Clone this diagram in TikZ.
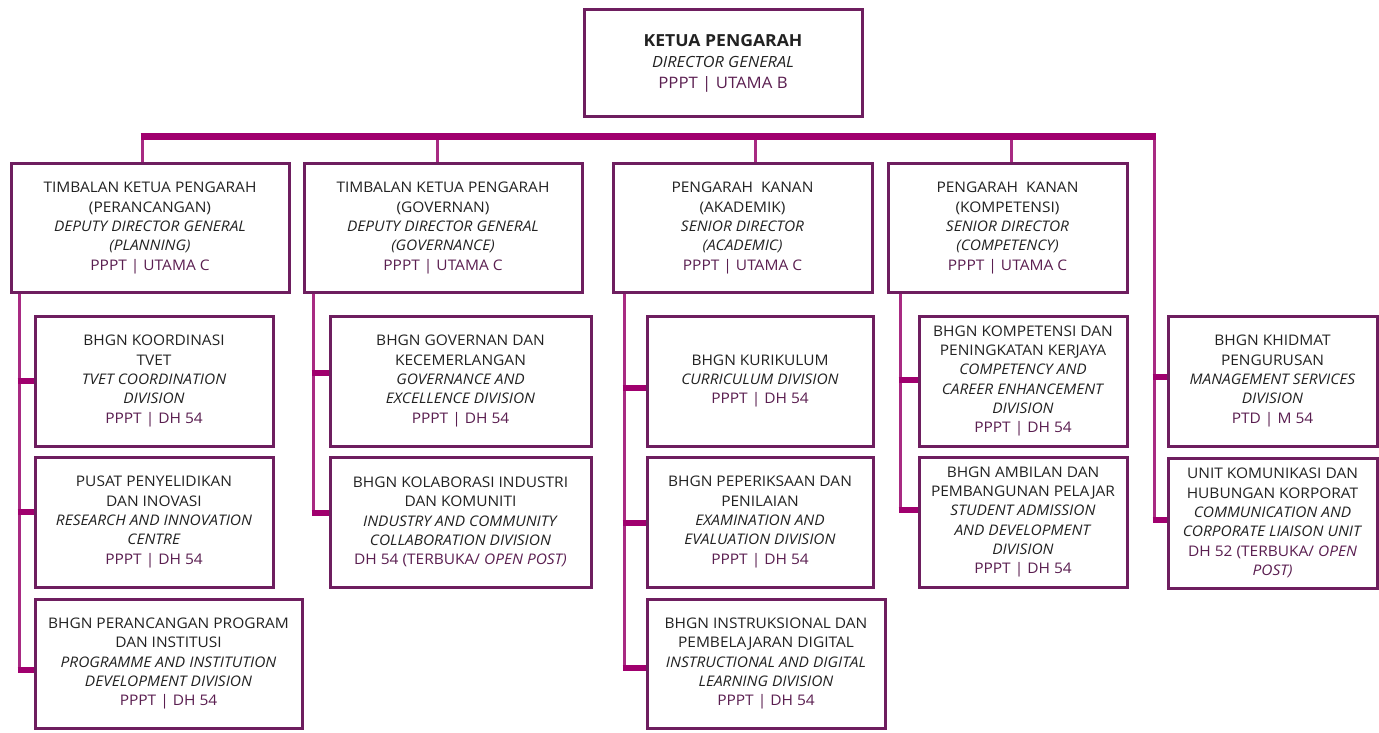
\documentclass[tikz,border=0pt]{standalone}
\usepackage{fontspec}
\setmainfont{Open Sans}[FakeStretch=1.06]
\definecolor{boxc}{HTML}{6E1E5F}
\definecolor{barc}{HTML}{A0006E}
\definecolor{linec}{HTML}{A82A82}
\definecolor{postc}{HTML}{5A1E50}
\definecolor{textc}{HTML}{222222}
\newcommand\post[1]{{\color{postc}#1}}
\begin{document}
\begin{tikzpicture}[x=1pt,y=-1pt,
  box/.style={draw=boxc, line width=3pt, align=center, inner sep=0pt, text=textc,
    font=\fontsize{14.6}{19.3}\selectfont},
  bar/.style={draw=barc, line width=7pt},
  thin/.style={draw=linec, line width=3pt},
  stub/.style={draw=barc, line width=6pt}]
\useasboundingbox (0,0) rectangle (1379,733);

% level 1
\node[box, minimum width=278pt, minimum height=107pt, font=\fontsize{15.4}{21}\selectfont] (DG) at (723,63.5)
  {{\fontsize{16.6}{21}\selectfont\bfseries KETUA PENGARAH}\\\textit{DIRECTOR GENERAL}\\{\fontsize{15.8}{21}\selectfont\post{PPPT | UTAMA B}}};

% level 2
\node[box, minimum width=278pt, minimum height=128pt] (A) at (150,228)
  {TIMBALAN KETUA PENGARAH\\(PERANCANGAN)\\\textit{DEPUTY DIRECTOR GENERAL}\\\textit{(PLANNING)}\\\post{PPPT | UTAMA C}};
\node[box, minimum width=278pt, minimum height=128pt] (B) at (443,228)
  {TIMBALAN KETUA PENGARAH\\(GOVERNAN)\\\textit{DEPUTY DIRECTOR GENERAL}\\\textit{(GOVERNANCE)}\\\post{PPPT | UTAMA C}};
\node[box, minimum width=259pt, minimum height=128pt] (C) at (742.5,228)
  {PENGARAH\ \ KANAN\\(AKADEMIK)\\\textit{SENIOR DIRECTOR}\\\textit{(ACADEMIC)}\\\post{PPPT | UTAMA C}};
\node[box, minimum width=239pt, minimum height=128pt] (D) at (1007.5,228)
  {PENGARAH\ \ KANAN\\(KOMPETENSI)\\\textit{SENIOR DIRECTOR}\\\textit{(COMPETENCY)}\\\post{PPPT | UTAMA C}};

% level 3, column A
\node[box, minimum width=238pt, minimum height=130pt] (A1) at (154,381)
  {BHGN KOORDINASI\\TVET\\\textit{TVET COORDINATION}\\\textit{DIVISION}\\\post{PPPT | DH 54}};
\node[box, minimum width=238pt, minimum height=130pt] (A2) at (154,522)
  {PUSAT PENYELIDIKAN\\DAN INOVASI\\\textit{RESEARCH AND INNOVATION}\\\textit{CENTRE}\\\post{PPPT | DH 54}};
\node[box, minimum width=267pt, minimum height=129pt] (A3) at (168.5,663.5)
  {BHGN PERANCANGAN PROGRAM\\DAN INSTITUSI\\\textit{PROGRAMME AND INSTITUTION}\\\textit{DEVELOPMENT DIVISION}\\\post{PPPT | DH 54}};

% column B
\node[box, minimum width=261pt, minimum height=130pt] (B1) at (460.5,381)
  {BHGN GOVERNAN DAN\\KECEMERLANGAN\\\textit{GOVERNANCE AND}\\\textit{EXCELLENCE DIVISION}\\\post{PPPT | DH 54}};
\node[box, minimum width=261pt, minimum height=130pt] (B2) at (460.5,522)
  {BHGN KOLABORASI INDUSTRI\\DAN KOMUNITI\\\textit{INDUSTRY AND COMMUNITY}\\\textit{COLLABORATION DIVISION}\\\post{DH 54 (TERBUKA/ \textit{OPEN POST)}}};

% column C
\node[box, minimum width=226pt, minimum height=130pt] (C1) at (760,381)
  {BHGN KURIKULUM\\\textit{CURRICULUM DIVISION}\\\post{PPPT | DH 54}};
\node[box, minimum width=226pt, minimum height=130pt] (C2) at (760,522)
  {BHGN PEPERIKSAAN DAN\\PENILAIAN\\\textit{EXAMINATION AND}\\\textit{EVALUATION DIVISION}\\\post{PPPT | DH 54}};
\node[box, minimum width=238pt, minimum height=129pt] (C3) at (766,663.5)
  {BHGN INSTRUKSIONAL DAN\\PEMBELAJARAN DIGITAL\\\textit{INSTRUCTIONAL AND DIGITAL}\\\textit{LEARNING DIVISION}\\\post{PPPT | DH 54}};

% column D
\node[box, minimum width=208pt, minimum height=130pt] (D1) at (1023,381)
  {BHGN KOMPETENSI DAN\\PENINGKATAN KERJAYA\\\textit{COMPETENCY AND}\\\textit{CAREER ENHANCEMENT}\\\textit{DIVISION}\\\post{PPPT | DH 54}};
\node[box, minimum width=208pt, minimum height=130pt] (D2) at (1023,522)
  {BHGN AMBILAN DAN\\PEMBANGUNAN PELAJAR\\\textit{STUDENT ADMISSION}\\\textit{AND DEVELOPMENT}\\\textit{DIVISION}\\\post{PPPT | DH 54}};

% column E
\node[box, minimum width=209pt, minimum height=130pt] (E1) at (1272.5,381)
  {BHGN KHIDMAT\\PENGURUSAN\\\textit{MANAGEMENT SERVICES}\\\textit{DIVISION}\\\post{PTD | M 54}};
\node[box, minimum width=209pt, minimum height=130pt] (E2) at (1272.5,523)
  {UNIT KOMUNIKASI DAN\\HUBUNGAN KORPORAT\\\textit{COMMUNICATION AND}\\\textit{CORPORATE LIAISON UNIT}\\\post{DH 52 (TERBUKA/ \textit{OPEN}}\\\post{\textit{POST)}}};

% main bar and drops
\coordinate (barL) at (140.5,136.5);
\coordinate (barR) at (1155.5,136.5);
\coordinate (dA) at (142,136.5);
\coordinate (dB) at (437,136.5);
\coordinate (dC) at (755,136.5);
\coordinate (dD) at (1011,136.5);
\coordinate (dE) at (1154,136.5);
\draw[thin] (dA) -- (dA |- A.north);
\draw[thin] (dB) -- (dB |- B.north);
\draw[thin] (dC) -- (dC |- C.north);
\draw[thin] (dD) -- (dD |- D.north);

% trunks
\coordinate (tA) at (19,0);
\coordinate (tB) at (313,0);
\coordinate (tC) at (624,0);
\coordinate (tD) at (900,0);
\coordinate (sA1) at (17.5,381);
\coordinate (sA2) at (17.5,512);
\coordinate (sA3) at (17.5,670);
\coordinate (sB1) at (311.5,373);
\coordinate (sB2) at (311.5,513);
\coordinate (sC1) at (622.5,388);
\coordinate (sC2) at (622.5,523);
\coordinate (sC3) at (622.5,668);
\coordinate (sD1) at (898.5,380);
\coordinate (sD2) at (898.5,510);
\coordinate (sE1) at (1152.5,377);
\coordinate (sE2) at (1152.5,520);

\draw[thin] (tA |- A.south) -- (tA |- sA3);
\draw[thin] (tB |- B.south) -- (tB |- sB2);
\draw[thin] (tC |- C.south) -- (tC |- sC3);
\draw[thin] (tD |- D.south) -- (tD |- sD2);
\draw[thin] (dE) -- (dE |- sE2);

\draw[stub] (sA1) -- (sA1 -| A1.west);
\draw[stub] (sA2) -- (sA2 -| A2.west);
\draw[stub] (sA3) -- (sA3 -| A3.west);
\draw[stub] (sB1) -- (sB1 -| B1.west);
\draw[stub] (sB2) -- (sB2 -| B2.west);
\draw[stub] (sC1) -- (sC1 -| C1.west);
\draw[stub] (sC2) -- (sC2 -| C2.west);
\draw[stub] (sC3) -- (sC3 -| C3.west);
\draw[stub] (sD1) -- (sD1 -| D1.west);
\draw[stub] (sD2) -- (sD2 -| D2.west);
\draw[stub] (sE1) -- (sE1 -| E1.west);
\draw[stub] (sE2) -- (sE2 -| E2.west);

\draw[bar] (barL) -- (barR);
\end{tikzpicture}
\end{document}
